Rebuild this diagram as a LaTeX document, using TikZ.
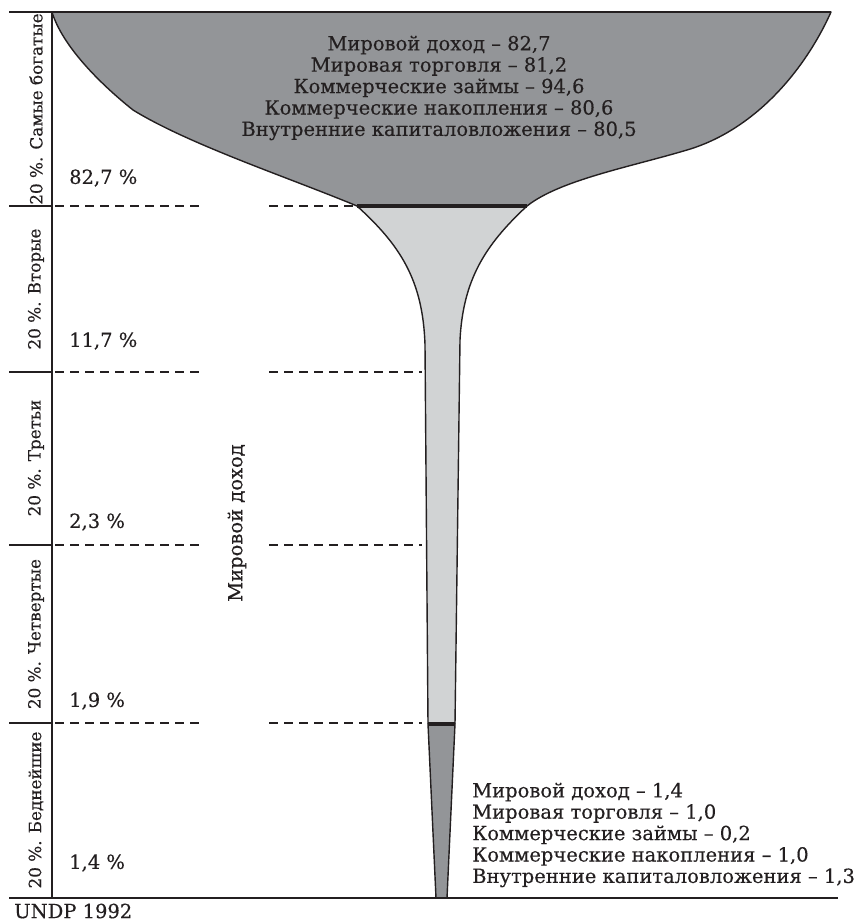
\documentclass[tikz,border=0pt]{standalone}
\usepackage{fontspec}
\setmainfont{DejaVu Serif}[FakeBold=0.35]
\definecolor{darkfill}{HTML}{939598}
\definecolor{lightfill}{HTML}{D1D3D4}
\definecolor{ink}{HTML}{231F20}
\begin{document}
\begin{tikzpicture}[x=1bp,y=-1bp,
  axisline/.style={draw=ink, line width=1.8bp},
  outline/.style={draw=ink, line width=1.4bp, line join=round},
  divider/.style={draw=ink, line width=3.4bp},
  guide/.style={draw=ink, line width=1.3bp, dash pattern=on 8.7bp off 6.3bp},
  lbl/.style={font=\fontsize{19.5bp}{21.4bp}\selectfont, text=ink, inner sep=0pt},
  grouplbl/.style={lbl, font=\fontsize{16.8bp}{21.4bp}\selectfont, rotate=90},
  pct/.style={lbl, anchor=west}]
\useasboundingbox (0,0) rectangle (858,922);

% key points of the funnel
\coordinate (topL) at (52,12);
\coordinate (topR) at (831,12);
\coordinate (neckL) at (357,206);
\coordinate (neckR) at (527,206);
\coordinate (stemL) at (428,724);
\coordinate (stemR) at (455,724);
\coordinate (tipL) at (436,898);
\coordinate (tipR) at (447,898);

% middle part of the funnel (light)
\fill[lightfill] (neckL) -- (neckR)
  .. controls (485,245) and (463,280) .. (460,340) -- (stemR)
  -- (stemL) -- (425,345)
  .. controls (423,280) and (400,245) .. (neckL) -- cycle;
\draw[outline] (neckR) .. controls (485,245) and (463,280) .. (460,340) -- (stemR);
\draw[outline] (stemL) -- (425,345) .. controls (423,280) and (400,245) .. (neckL);

% top part of the funnel (dark)
\path[fill=darkfill, outline] (topL) -- (topR)
  .. controls (805,70) and (755,130) .. (687,150)
  .. controls (630,167) and (560,180) .. (neckR)
  -- (neckL)
  .. controls (290,178) and (190,145) .. (133,110)
  .. controls (98,82) and (62,45) .. (topL) -- cycle;

% bottom tip of the funnel (dark)
\path[fill=darkfill, outline] (stemL) -- (stemR) -- (tipR) -- (tipL) -- cycle;

% dividers between the parts
\draw[divider] (neckL) -- (neckR);
\draw[divider] (stemL) -- (stemR);

% axes
\coordinate (axTop) at (9,12);
\coordinate (axBot) at (9,898);
\coordinate (axO) at (52,898);
\coordinate (axEnd) at (838,898);
\draw[axisline] (axTop) -- (topR);
\draw[axisline] (axBot) -- (axEnd);
\draw[axisline] (topL) -- (axO);

% band boundaries with dashed guides
\foreach \y/\xe [count=\i] in {206/357, 372/422, 545/422, 723/422} {
  \coordinate (tk\i) at (9,\y);
  \coordinate (ax\i) at (52,\y);
  \coordinate (ga\i) at (55,\y);
  \coordinate (gb\i) at (203,\y);
  \coordinate (gc\i) at (269,\y);
  \coordinate (gd\i) at (\xe,\y);
  \draw[axisline] (tk\i) -- (ax\i);
  \draw[guide] (ga\i) -- (gb\i);
  \draw[guide] (gc\i) -- (gd\i);
}

% band names
\node[grouplbl] (g1) at (36,109) {20 \%. Самые богатые};
\node[grouplbl] (g2) at (36,289) {20 \%. Вторые};
\node[grouplbl] (g3) at (36,458) {20 \%. Третьи};
\node[grouplbl] (g4) at (36,634) {20 \%. Четвертые};
\node[grouplbl] (g5) at (36,810) {20 \%. Беднейшие};

% shares of world income
\node[pct] (p1) at (69,178) {82,7 \%};
\node[pct] (p2) at (69,341) {11,7 \%};
\node[pct] (p3) at (69,522) {2,3 \%};
\node[pct] (p4) at (69,701) {1,9 \%};
\node[pct] (p5) at (69,863) {1,4 \%};

\node[lbl, rotate=90] (axis) at (237,523) {Мировой доход};

\node[lbl, align=center] (rich) at (439,88) {Мировой доход – 82,7\\
  Мировая торговля – 81,2\\
  Коммерческие займы – 94,6\\
  Коммерческие накопления – 80,6\\
  Внутренние капиталовложения – 80,5};

\node[lbl, align=left, anchor=west] (poor) at (472,835) {Мировой доход – 1,4\\
  Мировая торговля – 1,0\\
  Коммерческие займы – 0,2\\
  Коммерческие накопления – 1,0\\
  Внутренние капиталовложения – 1,3};

\node[lbl, anchor=west] (src) at (14,911) {UNDP 1992};
\end{tikzpicture}
\end{document}
